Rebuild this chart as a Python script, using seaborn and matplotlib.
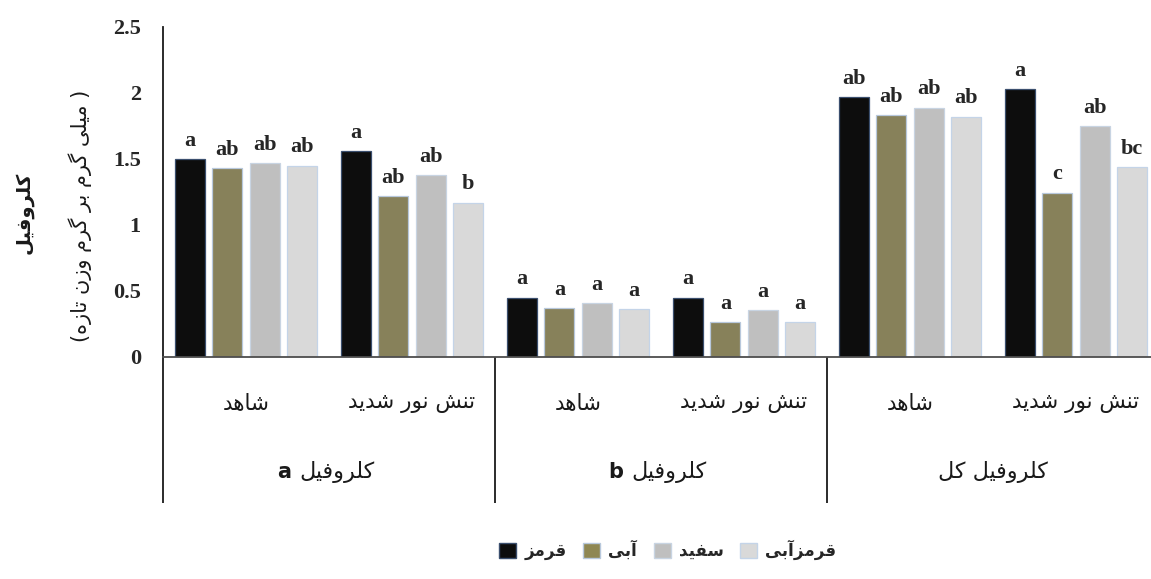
import matplotlib
matplotlib.use("Agg")
import matplotlib.pyplot as plt
import matplotlib.transforms as mtransforms
from matplotlib.patches import Patch
from matplotlib.font_manager import FontProperties
from matplotlib.ticker import FuncFormatter
import pandas as pd
import seaborn as sns

# ---- data -------------------------------------------------------------
blocks = ["کلروفیل", "کلروفیل", "کلروفیل کل"]
block_tags = ["a", "b", ""]
treatments = ["شاهد", "تنش نور شدید"]
lights = ["قرمز", "آبی", "سفید", "قرمزآبی"]

# one value per (block, treatment) group, in drawing order
red = [1.50, 1.56, 0.45, 0.45, 1.97, 2.03]
blue = [1.43, 1.22, 0.37, 0.265, 1.83, 1.245]
white = [1.47, 1.38, 0.41, 0.355, 1.89, 1.75]
redblue = [1.45, 1.17, 0.36, 0.265, 1.82, 1.44]

red_letters = ["a", "a", "a", "a", "ab", "a"]
blue_letters = ["ab", "ab", "a", "a", "ab", "c"]
white_letters = ["ab", "ab", "a", "a", "ab", "ab"]
redblue_letters = ["ab", "b", "a", "a", "ab", "bc"]

colors = ["#0d0d0d", "#8f8752", "#bfbfbf", "#d9d9d9"]
edge_colors = ["#3b4f6e", "#b8c8dc", "#c8d4e2", "#c4d4e8"]
y_ticks = [0, 0.5, 1, 1.5, 2, 2.5]

# ---- minimal Persian shaping (contextual forms + visual order) ---------
FORMS = {
    "ا": ("\uFE8D", "\uFE8E", None, None),
    "آ": ("\uFE81", "\uFE82", None, None),
    "ب": ("\uFE8F", "\uFE90", "\uFE91", "\uFE92"),
    "ت": ("\uFE95", "\uFE96", "\uFE97", "\uFE98"),
    "د": ("\uFEA9", "\uFEAA", None, None),
    "ر": ("\uFEAD", "\uFEAE", None, None),
    "ز": ("\uFEAF", "\uFEB0", None, None),
    "س": ("\uFEB1", "\uFEB2", "\uFEB3", "\uFEB4"),
    "ش": ("\uFEB5", "\uFEB6", "\uFEB7", "\uFEB8"),
    "ف": ("\uFED1", "\uFED2", "\uFED3", "\uFED4"),
    "ق": ("\uFED5", "\uFED6", "\uFED7", "\uFED8"),
    "ل": ("\uFEDD", "\uFEDE", "\uFEDF", "\uFEE0"),
    "م": ("\uFEE1", "\uFEE2", "\uFEE3", "\uFEE4"),
    "ن": ("\uFEE5", "\uFEE6", "\uFEE7", "\uFEE8"),
    "ه": ("\uFEE9", "\uFEEA", "\uFEEB", "\uFEEC"),
    "و": ("\uFEED", "\uFEEE", None, None),
    "ک": ("\uFB8E", "\uFB8F", "\uFB90", "\uFB91"),
    "گ": ("\uFB92", "\uFB93", "\uFB94", "\uFB95"),
    "ی": ("\uFBFC", "\uFBFD", "\uFBFE", "\uFBFF"),
}
MIRROR = {"(": ")", ")": "("}


def fa(text):
    out = []
    for i, ch in enumerate(text):
        if ch not in FORMS:
            out.append(MIRROR.get(ch, ch))
            continue
        prev = text[i - 1] if i > 0 else ""
        nxt = text[i + 1] if i + 1 < len(text) else ""
        join_prev = prev in FORMS and FORMS[prev][2] is not None
        join_next = nxt in FORMS and FORMS[ch][2] is not None
        iso, fin, ini, med = FORMS[ch]
        if join_prev and join_next:
            out.append(med)
        elif join_prev:
            out.append(fin)
        elif join_next:
            out.append(ini)
        else:
            out.append(iso)
    return "".join(reversed(out))


# ---- long table ---------------------------------------------------------
groups = [f"{b} {t}|{tr}" for b, t in zip(blocks, block_tags) for tr in treatments]
series = [red, blue, white, redblue]
letters = [red_letters, blue_letters, white_letters, redblue_letters]
rows = []
for light, vals in zip(lights, series):
    for g, v in zip(groups, vals):
        rows.append({"group": g, "light": light, "value": v})
df = pd.DataFrame(rows)

# ---- figure ------------------------------------------------------------
sns.set_style("white")
plt.rcParams["font.family"] = ["DejaVu Sans"]

fig = plt.figure(figsize=(11.51, 5.79), dpi=100)
W, H = 1151, 579
x0, x1, ybase, ytop = 163, 1159, 357, 27
ax = fig.add_axes([x0 / W, (H - ybase) / H, (x1 - x0) / W, (ybase - ytop) / H])

sns.barplot(
    data=df, x="group", y="value", hue="light",
    order=groups, hue_order=lights, palette=colors,
    width=0.9, gap=0.2, linewidth=0.9, legend=False, errorbar=None, ax=ax,
)

for cont, ec, labs in zip(ax.containers, edge_colors, letters):
    for bar in cont:
        bar.set_edgecolor(ec)
    ax.bar_label(cont, labels=labs, padding=6,
                 fontfamily="Liberation Serif", fontweight="bold", fontsize=16)

ax.set_ylim(0, 2.5)
ax.set_xlim(-0.5, 5.5)
ax.set_yticks(y_ticks)
ax.yaxis.set_major_formatter(FuncFormatter(lambda v, p: f"{v:g}"))
for lab in ax.get_yticklabels():
    lab.set_fontfamily("Liberation Serif")
    lab.set_fontweight("bold")
    lab.set_fontsize(16)
ax.tick_params(axis="y", length=0, pad=16)
ax.tick_params(axis="x", length=0, labelbottom=False)
ax.set_xlabel("")
ax.set_ylabel("")

for side in ["top", "right"]:
    ax.spines[side].set_visible(False)
ax.spines["left"].set_color("#1a1a1a")
ax.spines["left"].set_linewidth(1.3)
ax.spines["bottom"].set_color("#4d4d4d")
ax.spines["bottom"].set_linewidth(1.3)

# category frame below the axis
trans = mtransforms.blended_transform_factory(ax.transData, ax.transAxes)
sep_bottom = -(503 - ybase) / (ybase - ytop)
for xs in [-0.5, 1.5, 3.5]:
    ax.plot([xs, xs], [0, sep_bottom], transform=trans, color="#1a1a1a",
            lw=1.3, clip_on=False, solid_capstyle="butt")

inner_y = -(403 - ybase) / (ybase - ytop)
outer_y = -(472 - ybase) / (ybase - ytop)
for i, g in enumerate(groups):
    tr = g.split("|")[1]
    ax.text(i, inner_y, fa(tr), transform=trans, ha="center", va="center",
            fontsize=15.5, color="#1a1a1a")

for k, (b, t) in enumerate(zip(blocks, block_tags)):
    xc = 2 * k + 0.5
    if t:
        shift = mtransforms.offset_copy(trans, fig=fig, x=8, y=0, units="dots")
        fa_txt = ax.text(xc, outer_y, fa(b), transform=shift, ha="center",
                         va="center", fontsize=16, color="#1a1a1a")
        ax.annotate(t + " ", xy=(0, 0.5), xycoords=fa_txt, ha="right",
                    va="center", fontsize=15, fontweight="bold",
                    color="#1a1a1a")
    else:
        ax.text(xc, outer_y, fa(b), transform=trans, ha="center",
                va="center", fontsize=16, color="#1a1a1a")

# y-axis title in two lines
fig.text(24 / W, 1 - 213 / H, fa("کلروفیل"), rotation=90, ha="center",
         va="center", fontsize=14, fontweight="bold", color="#1a1a1a")
fig.text(80 / W, 1 - 216 / H, fa("( میلی گرم بر گرم وزن تازه)"), rotation=90,
         ha="center", va="center", fontsize=15, color="#1a1a1a")

# legend
handles = [Patch(facecolor=c, edgecolor=e, linewidth=1.0)
           for c, e in zip(colors, edge_colors)]
fig.legend(handles, [fa(l) for l in lights], ncol=4, loc="center",
           bbox_to_anchor=(668 / W, 1 - 550 / H), frameon=False,
           handlelength=1.0, handleheight=1.0, handletextpad=0.5,
           columnspacing=1.0,
           prop=FontProperties(family="DejaVu Sans", weight="bold", size=12))

fig.savefig("out.png", dpi=100)
